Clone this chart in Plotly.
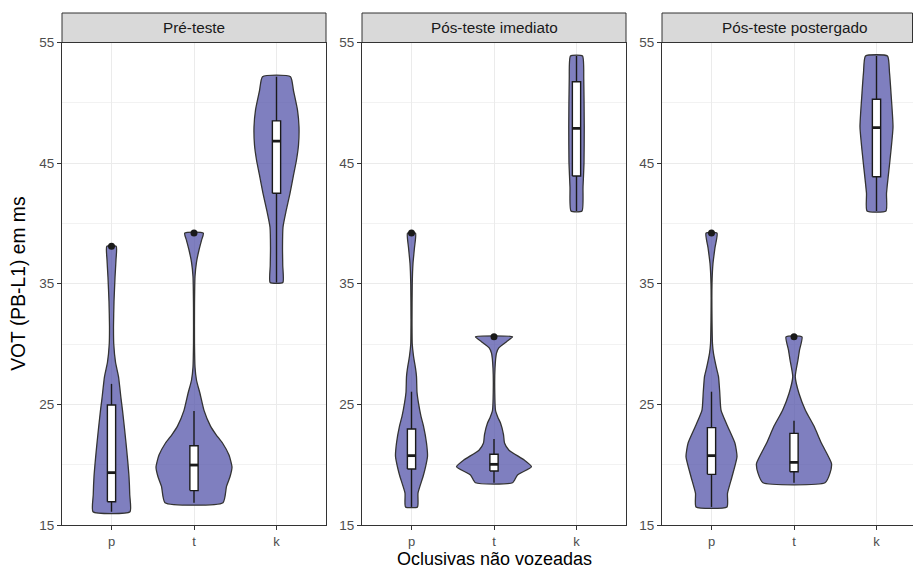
import plotly.graph_objects as go

# ---------------- data ----------------
facets = ["Pré-teste", "Pós-teste imediato", "Pós-teste postergado"]
categories = ["p", "t", "k"]

# violin density profiles (y value, relative density width)
pre_p_y = [16.1, 17.5, 19.0, 20.5, 21.8, 23.0, 24.5, 25.5, 27.3, 28.5, 30.0, 31.5, 33.5, 35.5, 37.0, 38.1]
pre_p_d = [37, 36.5, 35, 32, 29, 26, 22, 19, 14, 8, 4.5, 4, 5, 7, 9, 9.5]
pre_t_y = [16.85, 18.2, 19.0, 19.8, 20.8, 21.8, 22.5, 23.2, 24.5, 25.9, 27.0, 28.1, 30.0, 33.0, 35.6, 36.8, 37.8, 38.6, 39.2]
pre_t_d = [58, 65, 72, 76, 70, 57, 44, 33, 20, 12, 5, 2, 1, 1, 2, 5, 10, 15, 18.7]
pre_k_y = [35.1, 36.5, 38.0, 39.7, 41.0, 42.5, 44.0, 45.26, 46.5, 48.0, 49.4, 51.0, 52.17]
pre_k_d = [12.7, 12.5, 12, 13, 19, 27, 34, 40, 44, 45, 42, 34, 28]

pi_p_y = [16.5, 17.65, 19.0, 19.8, 20.7, 21.8, 23.2, 24.0, 25.1, 26.0, 27.3, 28.0, 29.0, 30.0, 32.0, 35.0, 36.7, 38.0, 39.2]
pi_p_d = [12, 13, 23, 28, 32, 30, 24, 19, 14, 11, 10, 8, 4, 1.5, 1, 1.5, 3, 6, 8]
pi_t_y = [18.5, 19.15, 19.83, 20.4, 21.2, 21.8, 22.5, 23.45, 23.9, 24.5, 26.0, 28.0, 29.25, 29.7, 30.2, 30.6]
pi_t_d = [37, 47, 75, 60, 30, 21, 19, 13, 8, 3, 1.5, 2, 5, 10, 25, 37]
pi_k_y = [41.03, 43.0, 45.0, 48.0, 52.0, 53.88]
pi_k_d = [11, 13, 15, 15.5, 14.5, 12]

pp_p_y = [16.5, 17.63, 19.0, 20.66, 21.77, 23.2, 24.53, 26.0, 27.3, 28.0, 29.23, 30.0, 32.0, 35.0, 36.7, 38.0, 39.2]
pp_p_d = [31, 32, 41, 51, 47, 32, 19, 16.5, 14, 10, 4, 2, 1, 1, 3, 7, 11]
pp_t_y = [18.5, 19.3, 20.1, 21.77, 23.2, 24.5, 25.9, 27.3, 28.7, 29.5, 30.6]
pp_t_d = [62, 72, 75, 55, 40, 23, 10, 2.5, 8, 11, 16]
pp_k_y = [41.03, 42.5, 45.26, 48.0, 50.8, 52.5, 53.88]
pp_k_d = [19, 20, 27, 33, 29, 26, 22]

# boxplot statistics per facet (p, t, k)
pre_lower = [16.1, 16.85, 35.1]
pre_q1 = [16.93, 17.85, 42.5]
pre_median = [19.34, 19.97, 46.83]
pre_q3 = [24.95, 21.57, 48.5]
pre_upper = [26.7, 24.45, 52.17]
pre_outliers = [38.1, 39.2, None]

pi_lower = [16.5, 18.5, 41.03]
pi_q1 = [19.64, 19.48, 43.93]
pi_median = [20.75, 20.03, 47.88]
pi_q3 = [22.96, 20.86, 51.75]
pi_upper = [26.05, 22.13, 53.88]
pi_outliers = [39.2, 30.6, None]

pp_lower = [16.5, 18.5, 41.03]
pp_q1 = [19.2, 19.42, 43.87]
pp_median = [20.75, 20.2, 47.94]
pp_q3 = [23.07, 22.6, 50.3]
pp_upper = [26.05, 23.65, 53.88]
pp_outliers = [39.2, 30.6, None]

y_ticks = [15, 25, 35, 45, 55]
y_minor = [20, 30, 40, 50]

# ---------------- styling ----------------
FONT = "Liberation Sans, Arial, sans-serif"
VIOLIN_FILL = "rgba(84,84,170,0.75)"
VIOLIN_LINE = "#333333"
BOX_LINE = "#1a1a1a"
DENS_SCALE = 1 / 82.5
BOX_W = 0.1

profiles = [
    [(pre_p_y, pre_p_d), (pre_t_y, pre_t_d), (pre_k_y, pre_k_d)],
    [(pi_p_y, pi_p_d), (pi_t_y, pi_t_d), (pi_k_y, pi_k_d)],
    [(pp_p_y, pp_p_d), (pp_t_y, pp_t_d), (pp_k_y, pp_k_d)],
]
boxes = [
    (pre_lower, pre_q1, pre_median, pre_q3, pre_upper, pre_outliers),
    (pi_lower, pi_q1, pi_median, pi_q3, pi_upper, pi_outliers),
    (pp_lower, pp_q1, pp_median, pp_q3, pp_upper, pp_outliers),
]

fig = go.Figure()
positions = [1, 2, 3]


def seg(x, y, xa, ya, width):
    fig.add_trace(go.Scatter(x=x, y=y, mode="lines",
                             line=dict(color=BOX_LINE, width=width),
                             xaxis=xa, yaxis=ya, showlegend=False, hoverinfo="skip"))


for fi in range(3):
    xa = "x" if fi == 0 else f"x{fi+1}"
    ya = "y" if fi == 0 else f"y{fi+1}"
    for ci, (ys, ds) in enumerate(profiles[fi]):
        c = positions[ci]
        right_x = [c + d * DENS_SCALE / 2 for d in ds]
        left_x = [c - d * DENS_SCALE / 2 for d in ds]
        px = right_x + left_x[::-1] + [right_x[0]]
        py = list(ys) + list(ys)[::-1] + [ys[0]]
        fig.add_trace(go.Scatter(
            x=px, y=py, mode="lines", fill="toself", fillcolor=VIOLIN_FILL,
            line=dict(color=VIOLIN_LINE, width=1.3, shape="spline", smoothing=0.5),
            xaxis=xa, yaxis=ya, hoverinfo="skip", showlegend=False))
    lo, q1, md, q3, up, outl = boxes[fi]
    for ci in range(3):
        c = positions[ci]
        l, r = c - BOX_W / 2, c + BOX_W / 2
        seg([c, c], [lo[ci], q1[ci]], xa, ya, 1.4)
        seg([c, c], [q3[ci], up[ci]], xa, ya, 1.4)
        fig.add_trace(go.Scatter(
            x=[l, r, r, l, l], y=[q1[ci], q1[ci], q3[ci], q3[ci], q1[ci]],
            mode="lines", fill="toself", fillcolor="white",
            line=dict(color=BOX_LINE, width=1.4),
            xaxis=xa, yaxis=ya, showlegend=False, hoverinfo="skip"))
        seg([l, r], [md[ci], md[ci]], xa, ya, 2.8)
    ox = [positions[i] for i in range(3) if outl[i] is not None]
    oy = [outl[i] for i in range(3) if outl[i] is not None]
    fig.add_trace(go.Scatter(
        x=ox, y=oy, mode="markers", marker=dict(color=BOX_LINE, size=7),
        xaxis=xa, yaxis=ya, showlegend=False, hoverinfo="skip"))

# ---------------- layout ----------------
W, H = 913, 570
ML, MR, MT, MB = 62, 0, 13, 45
plot_w = W - ML - MR
plot_h = H - MT - MB
ytop = (525 - 42.5) / plot_h
domains = [
    [0, 264 / plot_w],
    [300 / plot_w, 564 / plot_w],
    [600 / plot_w, 850.5 / plot_w],
]
xranges = [[0.4, 3.6], [0.4, 3.6], [0.4, 0.4 + 250.5 / 82.5]]

layout = dict(
    width=W, height=H,
    margin=dict(l=ML, r=MR, t=MT, b=MB),
    paper_bgcolor="white", plot_bgcolor="white",
    font=dict(family=FONT, color="#4D4D4D", size=13),
    showlegend=False,
)
for fi in range(3):
    sx = "xaxis" if fi == 0 else f"xaxis{fi+1}"
    sy = "yaxis" if fi == 0 else f"yaxis{fi+1}"
    anchor_x = "x" if fi == 0 else f"x{fi+1}"
    anchor_y = "y" if fi == 0 else f"y{fi+1}"
    layout[sx] = dict(
        domain=domains[fi], range=xranges[fi], anchor=anchor_y,
        tickvals=positions, ticktext=categories, ticks="outside", ticklen=4,
        tickcolor="#333333", showline=True, mirror=True, linecolor="#333333",
        linewidth=1, showgrid=True, gridcolor="#EBEBEB", gridwidth=1.1,
        zeroline=False, tickfont=dict(size=13, color="#4D4D4D", family=FONT),
        fixedrange=True, automargin=False)
    layout[sy] = dict(
        domain=[0, ytop], range=[15, 55], anchor=anchor_x,
        tickvals=y_ticks, ticks="outside", ticklen=4, tickcolor="#333333",
        showline=True, mirror=True, linecolor="#333333", linewidth=1,
        showgrid=True, gridcolor="#EBEBEB", gridwidth=1.1, zeroline=False,
        minor=dict(tickvals=y_minor, showgrid=True, gridcolor="#F2F2F2",
                   gridwidth=0.6, ticks=""),
        tickfont=dict(size=13.5, color="#4D4D4D", family=FONT),
        fixedrange=True, automargin=False)
fig.update_layout(**layout)

shapes = []
annotations = []
for fi in range(3):
    d = domains[fi]
    shapes.append(dict(type="rect", xref="paper", yref="paper",
                       x0=d[0], x1=d[1], y0=ytop, y1=1.0,
                       fillcolor="#D9D9D9", line=dict(color="#333333", width=1),
                       layer="above"))
    annotations.append(dict(text=facets[fi], xref="paper", yref="paper",
                            x=(d[0] + d[1]) / 2 if fi < 2 else (d[0] + (600 + 264) / plot_w) / 2,
                            y=(ytop + 1) / 2, showarrow=False,
                            font=dict(size=15.3, color="#1A1A1A", family=FONT),
                            xanchor="center", yanchor="middle"))
annotations.append(dict(text="Oclusivas não vozeadas", xref="paper", yref="paper",
                        x=(494 - ML) / plot_w, y=-(569.5 - 525) / plot_h, showarrow=False,
                        font=dict(size=18, color="#000000", family=FONT),
                        xanchor="center", yanchor="bottom", borderpad=0))
annotations.append(dict(text="VOT (PB-L1) em ms", xref="paper", yref="paper",
                        x=-(62 - 19) / plot_w, y=ytop / 2, showarrow=False,
                        textangle=-90,
                        font=dict(size=19.3, color="#000000", family=FONT),
                        xanchor="center", yanchor="middle"))
fig.update_layout(shapes=shapes, annotations=annotations)

fig.write_html("out.html", config={"displayModeBar": False},
               post_script="document.body.style.margin='0';document.body.style.overflow='hidden';")
